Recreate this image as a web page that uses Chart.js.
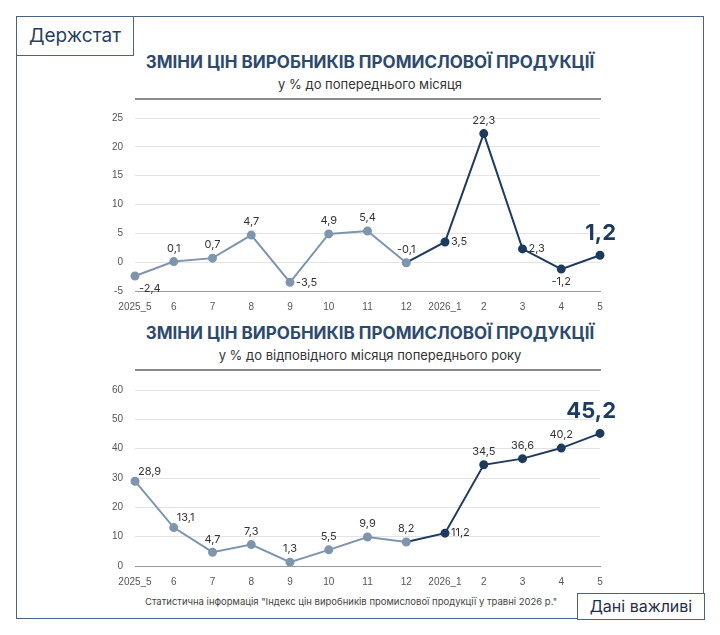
<!DOCTYPE html>
<html><head><meta charset="utf-8">
<script src="https://cdn.jsdelivr.net/npm/chart.js@4"></script>
<style>
body{margin:0;background:#fff;font-family:Inter,"Open Sans",sans-serif;}
#page{position:relative;width:720px;height:635px;}
.frame{position:absolute;left:16px;top:16px;width:688px;height:603px;border:1.5px solid #4a6283;box-sizing:border-box;}
.logo{position:absolute;left:16px;top:16px;width:118px;height:40px;border:1.5px solid #4a6283;box-sizing:border-box;background:#fff;color:#2a3f5c;font-size:19px;text-align:center;line-height:37px;}
.btn{position:absolute;left:577px;top:593px;width:128px;height:27px;border:1.5px solid #4a6283;box-sizing:border-box;background:#fff;color:#1f2f47;font-size:16px;text-align:center;line-height:24px;}
.t{position:absolute;left:140px;width:460px;text-align:center;color:#2d4a6e;font-weight:bold;font-size:17px;}
.s{position:absolute;left:140px;width:460px;text-align:center;color:#333;font-size:13px;}
.rule{position:absolute;left:135px;width:466px;height:1.5px;background:#8a8a8a;}
.src{position:absolute;left:145px;top:596px;font-size:9.5px;color:#444;}
canvas{position:absolute;}
</style></head><body>
<div id="page">
<div class="frame"></div>
<div class="logo">Держстат</div>
<div class="t" style="top:52px">ЗМІНИ ЦІН ВИРОБНИКІВ ПРОМИСЛОВОЇ ПРОДУКЦІЇ</div>
<div class="s" style="top:76px">у % до попереднього місяця</div>
<div class="rule" style="top:98px"></div>
<div class="t" style="top:323px">ЗМІНИ ЦІН ВИРОБНИКІВ ПРОМИСЛОВОЇ ПРОДУКЦІЇ</div>
<div class="s" style="top:347px">у % до відповідного місяця попереднього року</div>
<div class="rule" style="top:369px"></div>
<div style="position:absolute;left:100px;top:100px;width:520px;height:215px"><canvas id="c1"></canvas></div>
<div style="position:absolute;left:100px;top:372px;width:520px;height:218px"><canvas id="c2"></canvas></div>
<div class="src">Статистична інформація "Індекс цін виробників промислової продукції у травні 2026 р."</div>
<div class="btn">Дані важливі</div>
</div>
<script>
const months = ['2025_5','6','7','8','9','10','11','12','2026_1','2','3','4','5'];
const momValues = [-2.4,0.1,0.7,4.7,-3.5,4.9,5.4,-0.1,3.5,22.3,2.3,-1.2,1.2];
const yoyValues = [28.9,13.1,4.7,7.3,1.3,5.5,9.9,8.2,11.2,34.5,36.6,40.2,45.2];
const momTicks = [-5,0,5,10,15,20,25];
const yoyTicks = [0,10,20,30,40,50,60];
const momLabelPos = ['br','a','a','a','r','a','a','a','r','a','r','b','big'];
const yoyLabelPos = ['ar','ar','a','a','a','a','a','a','r','a','a','a','big'];

const light = '#7f95ad', dark = '#1e3a5f', splitAt = 7;

function labelPlugin(pos){
  return {id:'lbl', afterDatasetsDraw(chart){
    const ctx = chart.ctx, meta = chart.getDatasetMeta(0), data = chart.data.datasets[0].data;
    ctx.save();
    meta.data.forEach((pt,i)=>{
      const txt = String(data[i]).replace('.',',');
      let x = pt.x, y = pt.y, p = pos[i];
      ctx.fillStyle = '#333'; ctx.font = '11px Inter, sans-serif';
      ctx.textAlign = 'center'; ctx.textBaseline = 'middle';
      if(p==='a'){y-=13;}
      else if(p==='b'){y+=13;}
      else if(p==='r'){ctx.textAlign='left';x+=6;}
      else if(p==='br'){ctx.textAlign='left';x+=4;y+=13;}
      else if(p==='ar'){ctx.textAlign='left';x+=3;y-=10;}
      else if(p==='big'){ctx.font='bold 22px Inter, sans-serif';ctx.fillStyle=dark;ctx.textAlign='right';x+=16;y-=22;}
      ctx.fillText(txt,x,y);
    });
    ctx.restore();
  }};
}

function makeChart(id, values, ticks, pos){
  new Chart(document.getElementById(id), {
    type:'line',
    data:{labels:months, datasets:[{
      data:values, borderWidth:2, pointRadius:3.5, pointHoverRadius:3.5,
      pointBackgroundColor: values.map((v,i)=> i>splitAt ? dark : light),
      pointBorderColor: values.map((v,i)=> i>splitAt ? dark : light),
      borderColor: light,
      segment:{borderColor: c => c.p0DataIndex>=splitAt ? dark : light},
      tension:0
    }]},
    options:{
      responsive:true, maintainAspectRatio:false, animation:false,
      layout:{padding:{top:12,right:20,left:0,bottom:0}},
      plugins:{legend:{display:false},tooltip:{enabled:false}},
      scales:{
        x:{offset:false, grid:{display:false, drawTicks:true},
           border:{color:'#999'},
           ticks:{color:'#555',font:{size:10},padding:2,maxRotation:0,autoSkip:false}},
        y:{min:ticks[0], max:ticks[ticks.length-1],
           afterFit(s){s.width=35;},
           afterBuildTicks(s){s.ticks=ticks.map(v=>({value:v}));},
           grid:{color:'#e3e3e3', drawTicks:false}, border:{display:false},
           ticks:{color:'#555',font:{size:10},padding:12}}
      }
    },
    plugins:[labelPlugin(pos)]
  });
}
makeChart('c1', momValues, momTicks, momLabelPos);
makeChart('c2', yoyValues, yoyTicks, yoyLabelPos);
</script>
</body></html>
